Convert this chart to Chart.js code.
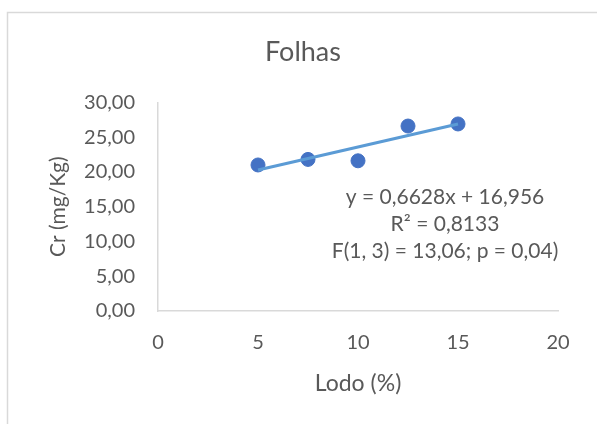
<!DOCTYPE html>
<html>
<head>
<meta charset="utf-8">
<script src="https://cdn.jsdelivr.net/npm/chart.js@4"></script>
<style>
  html, body { margin: 0; padding: 0; background: #ffffff; }
  #wrap { width: 597px; height: 424px; position: relative; }
</style>
</head>
<body>
<div id="wrap"><canvas id="chart" width="597" height="424"></canvas></div>
<script>
// Sewage sludge dose (%) and chromium content in leaves (mg/Kg)
const lodo = [5, 7.5, 10, 12.5, 15];
const cromo = [21.0, 21.8, 21.6, 26.6, 26.9];

// Linear trend fitted to the series
const slope = 0.6628;
const intercept = 16.956;
const trendLines = ['y = 0,6628x + 16,956', 'R\u00B2 = 0,8133', 'F(1, 3) = 13,06; p = 0,04)'];

const xTicks = [0, 5, 10, 15, 20];
const yTicks = [0, 5, 10, 15, 20, 25, 30];

const FONT = 'Lato';
const TEXT = '#595959';
const AXIS = '#d9d9d9';

const trendStart = Math.min(...lodo);
const trendEnd = Math.max(...lodo);
const trendData = [trendStart, trendEnd].map(x => ({ x: x, y: intercept + slope * x }));
const scatterData = lodo.map((x, i) => ({ x: x, y: cromo[i] }));

const fmtComma = (v, d) => v.toFixed(d).replace('.', ',');

// Light frame around the whole chart
const framePlugin = {
  id: 'frame',
  beforeDraw(chart) {
    const ctx = chart.ctx;
    ctx.save();
    ctx.fillStyle = '#ffffff';
    ctx.fillRect(0, 0, chart.width, chart.height);
    ctx.strokeStyle = '#d9d9d9';
    ctx.lineWidth = 1.5;
    ctx.strokeRect(7.5, 12.5, chart.width + 20, chart.height + 20);
    ctx.restore();
  }
};

// Trend equation and statistics block
const trendLabelPlugin = {
  id: 'trendLabel',
  afterDatasetsDraw(chart) {
    const { ctx, chartArea } = chart;
    ctx.save();
    ctx.font = '21px ' + FONT;
    ctx.fillStyle = TEXT;
    ctx.textAlign = 'center';
    ctx.textBaseline = 'middle';
    const cx = chartArea.right - 113;
    const y0 = chartArea.top + 95;
    trendLines.forEach((t, i) => ctx.fillText(t, cx, y0 + i * 27));
    ctx.restore();
  }
};

new Chart(document.getElementById('chart'), {
  type: 'scatter',
  data: {
    datasets: [
      {
        type: 'line',
        label: 'Linear (Cr)',
        data: trendData,
        borderColor: '#5B9BD5',
        borderWidth: 3,
        pointRadius: 0,
        fill: false,
        order: 0
      },
      {
        label: 'Cr',
        data: scatterData,
        backgroundColor: '#4472C4',
        borderColor: '#4472C4',
        pointRadius: 7,
        pointHoverRadius: 7,
        order: 1
      }
    ]
  },
  plugins: [framePlugin, trendLabelPlugin],
  options: {
    responsive: false,
    animation: false,
    devicePixelRatio: 1,
    layout: { padding: { left: 9, right: 0, top: 0, bottom: 0 } },
    plugins: {
      legend: { display: false },
      tooltip: { enabled: false },
      title: {
        display: true,
        text: 'Folhas',
        color: TEXT,
        font: { family: FONT, size: 27, weight: 'normal' },
        padding: { top: 36, bottom: 34 }
      }
    },
    scales: {
      x: {
        type: 'linear',
        min: 0,
        max: 20,
        afterBuildTicks(scale) { scale.ticks = xTicks.map(v => ({ value: v })); },
        afterFit(scale) { scale.height = 113; },
        grid: { display: false, drawTicks: false },
        border: { display: true, color: AXIS, width: 1.5 },
        ticks: {
          color: TEXT,
          padding: 20,
          font: { family: FONT, size: 20 },
          callback: v => String(v)
        },
        title: {
          display: true,
          text: 'Lodo (%)',
          color: TEXT,
          font: { family: FONT, size: 23 },
          padding: { top: 0, bottom: 27 }
        }
      },
      y: {
        type: 'linear',
        min: 0,
        max: 30,
        afterBuildTicks(scale) { scale.ticks = yTicks.map(v => ({ value: v })); },
        afterFit(scale) { scale.width = 149; },
        grid: { display: false, drawTicks: false },
        border: { display: true, color: AXIS, width: 1.5 },
        ticks: {
          color: TEXT,
          padding: 23,
          font: { family: FONT, size: 20 },
          callback: v => fmtComma(v, 2)
        },
        title: {
          display: true,
          text: 'Cr (mg/Kg)',
          color: TEXT,
          font: { family: FONT, size: 21 },
          padding: { top: 37, bottom: 0 }
        }
      },
      // empty margin on the right of the plot
      yRight: {
        type: 'linear',
        position: 'right',
        afterFit(scale) { scale.width = 39; },
        grid: { display: false, drawTicks: false },
        border: { display: false },
        ticks: { display: false },
        title: { display: false }
      }
    }
  }
});
</script>
</body>
</html>
